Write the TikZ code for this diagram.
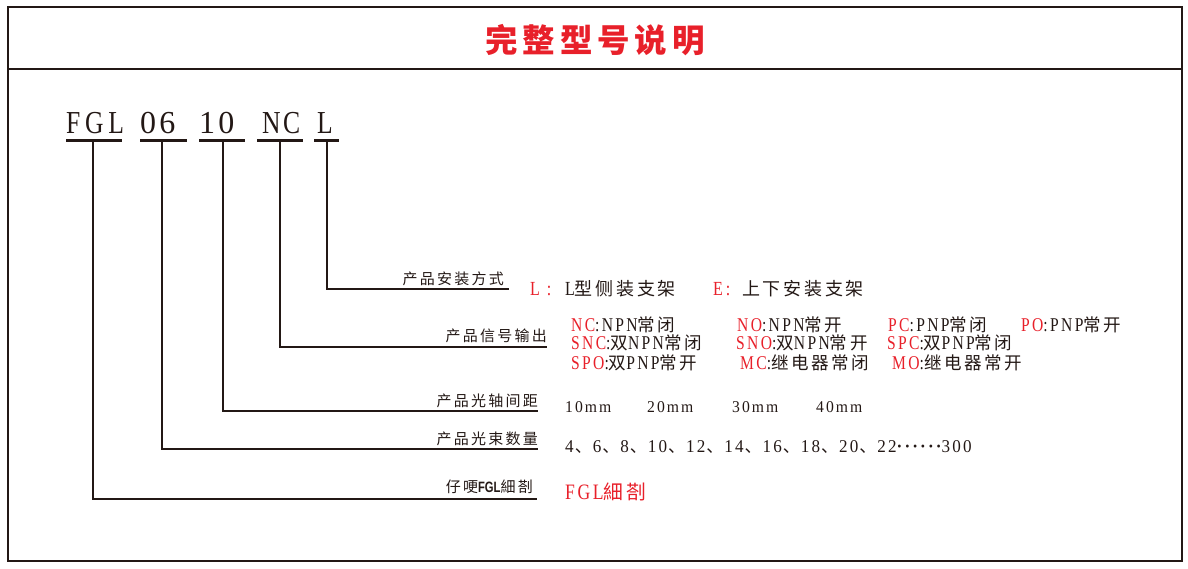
\documentclass[tikz,border=0pt]{standalone}
\usepackage{fontspec}
\setmainfont{Liberation Serif}[FakeStretch=0.8,LetterSpace=12]
\newfontfamily\cjk{Noto Sans CJK SC}[LetterSpace=15,Scale=0.9]
\newfontfamily\cjklbl{Noto Sans CJK SC}[LetterSpace=15]
\newfontfamily\modelfont{Liberation Serif}[FakeStretch=0.8,LetterSpace=15]
\newfontfamily\modeldig{Liberation Serif}[LetterSpace=10]
\newfontfamily\numfont{Liberation Serif}[FakeStretch=0.95,LetterSpace=12]
\newcommand\zh[1]{{\cjk #1}}
\newcommand\dun{\hspace{1pt}{\cjklbl\fontsize{17}{17}\selectfont 、}\hspace{1pt}}
\definecolor{rd}{HTML}{E8202A}
\definecolor{ln}{HTML}{231815}
\tikzset{
  frame/.style={draw=ln,line width=2.5pt},
  bar/.style={draw=ln,line width=3pt},
  conn/.style={draw=ln,line width=2.6pt,line join=miter},
  model/.style={anchor=base west,inner sep=0pt,text=ln,font=\modelfont\fontsize{32}{32}\selectfont},
  modeld/.style={anchor=base west,inner sep=0pt,text=ln,font=\modeldig\fontsize{32}{32}\selectfont},
  lbl/.style={anchor=base east,inner sep=0pt,text=ln,font=\cjklbl\fontsize{15}{15}\selectfont},
  txt/.style={anchor=base west,inner sep=0pt,text=ln,font=\fontsize{19.5}{19.5}\selectfont},
  mount/.style={txt,font=\fontsize{20}{20}\selectfont},
  dist/.style={txt,font=\numfont\fontsize{16.5}{16.5}\selectfont},
  nums/.style={txt,font=\numfont\fontsize{18}{18}\selectfont},
  big/.style={anchor=base west,inner sep=0pt,text=rd,font=\fontsize{22}{22}\selectfont},
}
\begin{document}
\begin{tikzpicture}[x=1pt,y=-1pt]
\useasboundingbox (0,0) rectangle (1188,568);
% frame
\draw[frame] (8,7) rectangle (1182,561);
\draw[draw=ln,line width=2pt] (8,69) -- (1182,69);
\node[text=rd,inner sep=0pt] (title) at (595,40) {\cjklbl\bfseries\fontsize{32.5}{32.5}\selectfont 完整型号说明};
% model code
\node[model] (mFGL) at (66,133) {FGL};
\node[modeld] (m06) at (140,133) {06};
\node[modeld] (m10) at (199,133) {10};
\node[model] (mNC) at (262,133) {{N}\kern2.5pt{C}};
\node[model] (mL) at (317,133) {L};
% bars
\coordinate (b1l) at (66,140); \coordinate (b1r) at (122,140);
\coordinate (b2l) at (140,140); \coordinate (b2r) at (187,140);
\coordinate (b3l) at (199,140); \coordinate (b3r) at (245,140);
\coordinate (b4l) at (257,140); \coordinate (b4r) at (303,140);
\coordinate (b5l) at (314,140); \coordinate (b5r) at (339,140);
\draw[bar] (b1l) -- (b1r);
\draw[bar] (b2l) -- (b2r);
\draw[bar] (b3l) -- (b3r);
\draw[bar] (b4l) -- (b4r);
\draw[bar] (b5l) -- (b5r);
% stems and arms
\coordinate (s1) at (93,140);  \coordinate (a1) at (537,499);
\coordinate (s2) at (162,140); \coordinate (a2) at (538,449);
\coordinate (s3) at (223,140); \coordinate (a3) at (538,411);
\coordinate (s4) at (280,140); \coordinate (a4) at (547,347);
\coordinate (s5) at (327,140); \coordinate (a5) at (509,289);
\draw[conn] (s1) |- (a1);
\draw[conn] (s2) |- (a2);
\draw[conn] (s3) |- (a3);
\draw[conn] (s4) |- (a4);
\draw[conn] (s5) |- (a5);
% labels
\node[lbl] (l5) at (504,284) {产品安装方式};
\node[lbl] (l4) at (547,341) {产品信号输出};
\node[lbl] (l3) at (538,406) {产品光轴间距};
\node[lbl] (l2) at (538,444) {产品光束数量};
\node[lbl] (l1) at (533,492) {仔哽{\fontspec{Liberation Sans}[FakeStretch=0.75]\bfseries FGL}細剳};
% mounting
\node[mount,text=rd] (tL) at (530,295) {L\hspace{7pt}:};
\node[mount] (tL2) at (565,295) {L\zh{型侧装支架}};
\node[mount,text=rd] (tE) at (713,295) {E\hspace{3pt}:};
\node[mount] (tE2) at (742,295) {\zh{上下安装支架}};
% signal output
\node[txt] (o1) at (571,331) {\textcolor{rd}{NC}:NPN\zh{常闭}};
\node[txt] (o2) at (737,331) {\textcolor{rd}{NO}:NPN\zh{常开}};
\node[txt] (o3) at (888,331) {\textcolor{rd}{PC}:PNP\zh{常闭}};
\node[txt] (o4) at (1021,331) {\textcolor{rd}{PO}:PNP\zh{常开}};
\node[txt] (o5) at (571,349) {\textcolor{rd}{SNC}:\zh{双}NPN\zh{常闭}};
\node[txt] (o6) at (736,349) {\textcolor{rd}{SNO}:\zh{双}NPN\zh{常开}};
\node[txt] (o7) at (887,349) {\textcolor{rd}{SPC}:\zh{双}PNP\zh{常闭}};
\node[txt] (o8) at (571,369) {\textcolor{rd}{SPO}:\zh{双}PNP\zh{常开}};
\node[txt] (o9) at (740,369) {\textcolor{rd}{MC}:\zh{继电器常闭}};
\node[txt] (o10) at (892,369) {\textcolor{rd}{MO}:\zh{继电器常开}};
% spacing
\node[dist] (d1) at (565,412) {10mm};
\node[dist] (d2) at (647,412) {20mm};
\node[dist] (d3) at (732,412) {30mm};
\node[dist] (d4) at (816,412) {40mm};
% beams
\node[nums] (n1) at (565,452) {4\dun6\dun8\dun10\dun12\dun14\dun16\dun18\dun20\dun22{\bfseries ······}300};
% FGL
\node[big] (f1) at (565,499) {FGL\zh{細剳}};
\end{tikzpicture}
\end{document}
